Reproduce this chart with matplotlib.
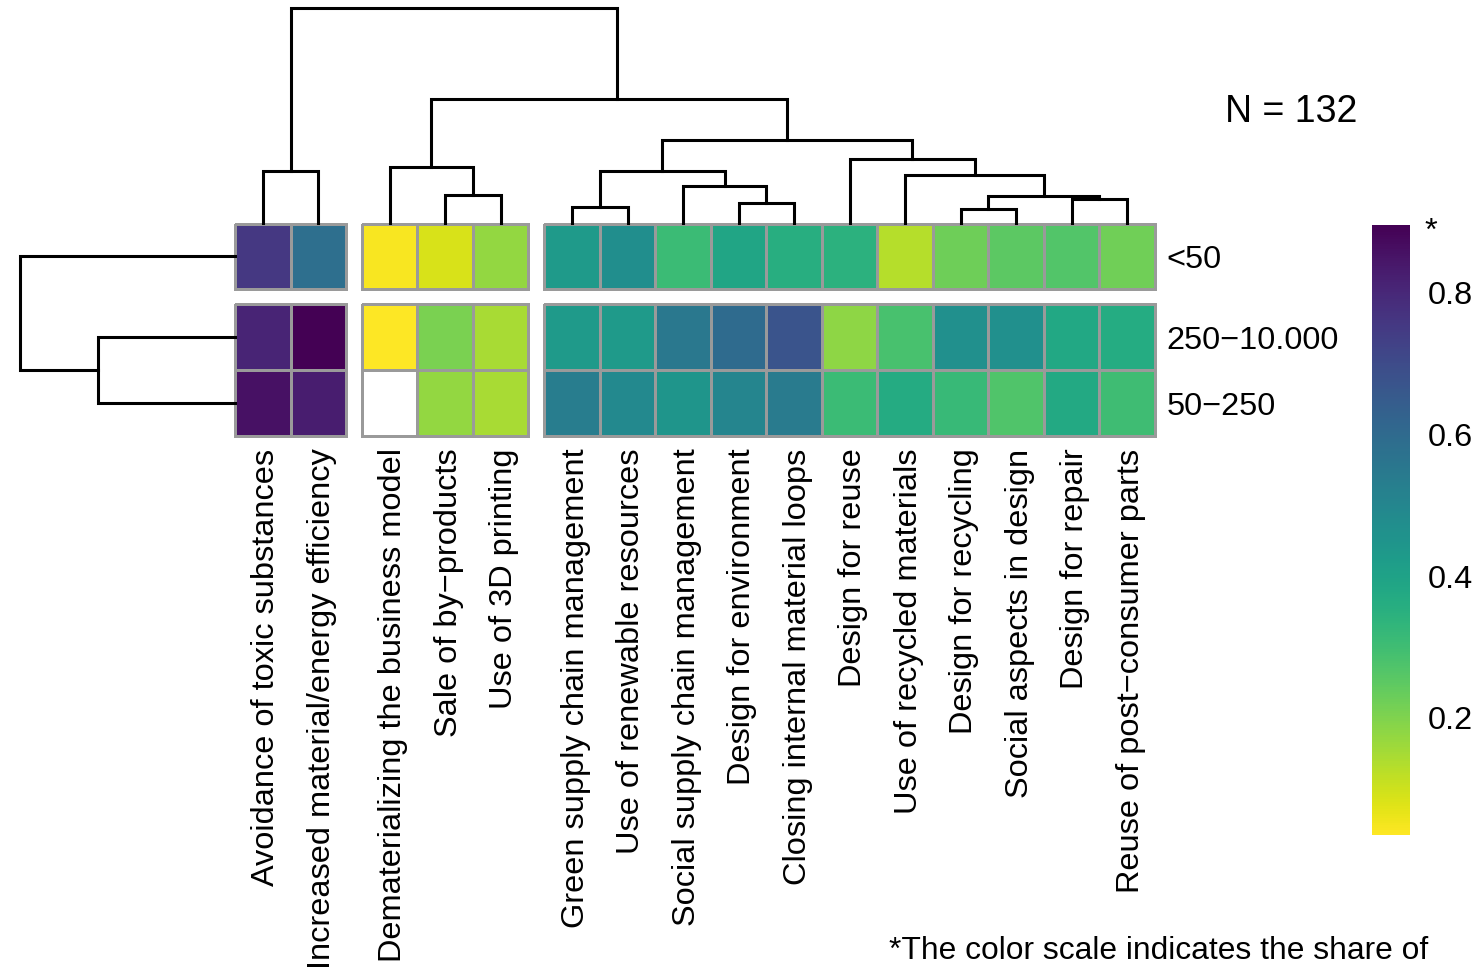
import numpy as np
import matplotlib
matplotlib.use("Agg")
import matplotlib.pyplot as plt
from matplotlib.colors import Normalize
from matplotlib.transforms import offset_copy

plt.rcParams["font.family"] = ["Liberation Sans", "DejaVu Sans"]

# ---------------------------------------------------------------- data
measures = [
    "Avoidance of toxic substances",
    "Increased material/energy efficiency",
    "Dematerializing the business model",
    "Sale of by\u2212products",
    "Use of 3D printing",
    "Green supply chain management",
    "Use of renewable resources",
    "Social supply chain management",
    "Design for environment",
    "Closing internal material loops",
    "Design for reuse",
    "Use of recycled materials",
    "Design for recycling",
    "Social aspects in design",
    "Design for repair",
    "Reuse of post\u2212consumer parts",
]
size_classes = ["<50", "250\u221210.000", "50\u2212250"]

share_lt50 = [0.757, 0.585, 0.045, 0.087, 0.173,
              0.430, 0.474, 0.310, 0.388, 0.357, 0.345,
              0.130, 0.225, 0.250, 0.267, 0.222]
share_250_10000 = [0.809, 0.895, 0.035, 0.207, 0.147,
                   0.430, 0.430, 0.551, 0.598, 0.671, 0.181,
                   0.284, 0.465, 0.465, 0.379, 0.366]
share_50_250 = [0.856, 0.826, np.nan, 0.173, 0.147,
                0.534, 0.491, 0.448, 0.504, 0.542, 0.310,
                0.370, 0.315, 0.272, 0.375, 0.302]

# column / row slices (number of items per slice)
col_slices = [2, 3, 11]
row_slices = [1, 2]

# hierarchical clustering of the columns: (child a, child b, height)
# ids < 16 are leaves, id 16 + k is the node created by merge k
col_merges = [
    (0, 1, 0.518),
    (3, 4, 0.275),
    (2, 17, 0.558),
    (5, 6, 0.158),
    (8, 9, 0.192),
    (7, 20, 0.362),
    (19, 21, 0.518),
    (12, 13, 0.132),
    (14, 15, 0.232),
    (23, 24, 0.265),
    (11, 25, 0.475),
    (10, 26, 0.638),
    (22, 27, 0.825),
    (18, 28, 1.232),
    (16, 29, 2.142),
]
row_merges = [
    (1, 2, 1.367),
    (0, 3, 2.155),
]

N_total = 132

# ---------------------------------------------------------------- layout
W, H = 1482, 973
fig = plt.figure(figsize=(W / 100, H / 100), dpi=100)


def px_axes(left, top, right, bottom):
    return fig.add_axes([left / W, 1 - bottom / H, (right - left) / W, (bottom - top) / H])


col_gap = 0.288   # gap between column slices, in cell widths
row_gap = 0.228   # gap between row slices, in cell heights

hm_left, hm_top, hm_right, hm_bottom = 235, 223.5, 1155, 435.9
label_size = 23.4

data = np.array([share_lt50, share_250_10000, share_50_250], dtype=float)
n_rows, n_cols = data.shape

cmap = plt.get_cmap("viridis_r").with_extremes(bad="white")
norm = Normalize(vmin=np.nanmin(data), vmax=np.nanmax(data))

# leaf centres in axis units (including slice gaps)
col_slice_id = np.repeat(np.arange(len(col_slices)), col_slices)
row_slice_id = np.repeat(np.arange(len(row_slices)), row_slices)
col_centres = np.arange(n_cols) + 0.5 + col_slice_id * col_gap
row_centres = np.arange(n_rows) + 0.5 + row_slice_id * row_gap
x_total = n_cols + (len(col_slices) - 1) * col_gap
y_total = n_rows + (len(row_slices) - 1) * row_gap

# ---------------------------------------------------------------- heatmap
ax = px_axes(hm_left, hm_top, hm_right, hm_bottom)
edge = "#9a9a9a"
c0 = 0
for ci, nc in enumerate(col_slices):
    r0 = 0
    for ri, nr in enumerate(row_slices):
        xe = np.arange(c0, c0 + nc + 1) + ci * col_gap
        ye = np.arange(r0, r0 + nr + 1) + ri * row_gap
        block = np.ma.masked_invalid(data[r0:r0 + nr, c0:c0 + nc])
        mesh = ax.pcolormesh(xe, ye, block, cmap=cmap, norm=norm,
                             edgecolors=edge, linewidth=2.0)
        mesh.set_clip_on(False)
        r0 += nr
    c0 += nc

ax.set_xlim(0, x_total)
ax.set_ylim(y_total, 0)
for s in ax.spines.values():
    s.set_visible(False)
ax.set_xticks([])

# column names: vertical, right-justified just below the heatmap,
# with the cap height centred on each column
cap_px = 0.716 * label_size * 100 / 72
col_lab_tr = offset_copy(ax.get_xaxis_transform(), fig=fig,
                         x=cap_px / 2, y=-12.5, units="dots")
for xc, name in zip(col_centres, measures):
    ax.text(xc, 0, name, transform=col_lab_tr, rotation=90,
            rotation_mode="anchor", ha="right", va="baseline",
            fontsize=label_size, clip_on=False)

ax.yaxis.tick_right()
ax.set_yticks(row_centres)
ax.set_yticklabels(size_classes, fontsize=label_size)
ax.tick_params(axis="y", length=0, pad=8.5)


def draw_dendrogram(dax, merges, centres, orientation):
    n = len(centres)
    idx_pos = {i: float(i) for i in range(n)}
    heights = {i: 0.0 for i in range(n)}
    leaf_idx = np.arange(n)
    for k, (a, b, h) in enumerate(merges):
        node = n + k
        idx_pos[node] = (idx_pos[a] + idx_pos[b]) / 2
        heights[node] = h
        pa = np.interp(idx_pos[a], leaf_idx, centres)
        pb = np.interp(idx_pos[b], leaf_idx, centres)
        xs = [pa, pa, pb, pb]
        hs = [heights[a], h, h, heights[b]]
        if orientation == "top":
            dax.plot(xs, hs, color="black", lw=2.2, solid_joinstyle="miter",
                     clip_on=False)
        else:
            dax.plot(hs, xs, color="black", lw=2.2, solid_joinstyle="miter",
                     clip_on=False)
    dax.set_axis_off()


# column dendrogram
dax_top = px_axes(hm_left, 8.3, hm_right, 222.5)
draw_dendrogram(dax_top, col_merges, col_centres, "top")
dax_top.set_xlim(0, x_total)
dax_top.set_ylim(0, max(m[2] for m in col_merges))

# row dendrogram
dax_left = px_axes(19.5, hm_top, hm_left, hm_bottom)
draw_dendrogram(dax_left, row_merges, row_centres, "left")
dax_left.set_ylim(y_total, 0)
dax_left.set_xlim(max(m[2] for m in row_merges), 0)

# ---------------------------------------------------------------- colour bar
cax = px_axes(1372, 225, 1410, 835)
cb = fig.colorbar(plt.cm.ScalarMappable(norm=norm, cmap=cmap), cax=cax)
cb.outline.set_visible(False)
cb.set_ticks([0.2, 0.4, 0.6, 0.8])
cb.ax.tick_params(length=0, pad=13, labelsize=label_size)
fig.text(1424 / W, 1 - 240 / H, "*", fontsize=label_size, ha="left", va="baseline")

# ---------------------------------------------------------------- annotations
fig.text(1357 / W, 1 - 121.5 / H, f"N = {N_total}", fontsize=27,
         ha="right", va="baseline")
fig.text(889 / W, 1 - 959 / H, "*The color scale indicates the share of",
         fontsize=22.9, ha="left", va="baseline")

fig.savefig("out.png", dpi=100, facecolor="white")
